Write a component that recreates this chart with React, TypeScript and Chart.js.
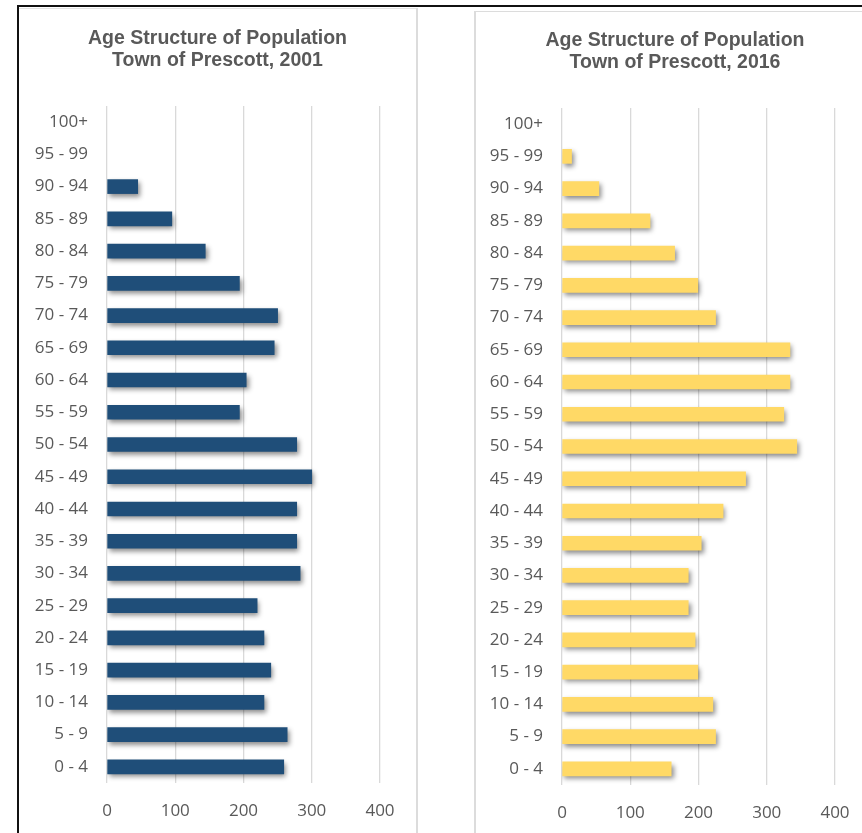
import React, { useEffect, useRef } from "react";
import { Chart, registerables } from "chart.js";

Chart.register(...registerables);

const ageGroups = [
  "0 - 4", "5 - 9", "10 - 14", "15 - 19", "20 - 24", "25 - 29", "30 - 34",
  "35 - 39", "40 - 44", "45 - 49", "50 - 54", "55 - 59", "60 - 64", "65 - 69",
  "70 - 74", "75 - 79", "80 - 84", "85 - 89", "90 - 94", "95 - 99", "100+",
];

const population2001 = [
  259, 264, 230, 240, 230, 220, 283, 278, 278, 300, 278, 194, 204, 245, 250,
  194, 144, 95, 45, 0, 0,
];

const population2016 = [
  160, 225, 221, 199, 195, 185, 185, 204, 236, 269, 344, 325, 334, 334, 225,
  199, 165, 129, 54, 14, 0,
];

const xTicks = [0, 100, 200, 300, 400];

const title2001 = ["Age Structure of Population", "Town of Prescott, 2001"];
const title2016 = ["Age Structure of Population", "Town of Prescott, 2016"];

const TEXT = "#595959";
const GRID = "#d9d9d9";
const TICK_FONT = { family: "'Open Sans', 'Liberation Sans', sans-serif", size: 17 };

const shadowPlugin = {
  id: "barShadow",
  beforeDatasetsDraw(chart: any) {
    const c = chart.ctx;
    c.save();
    c.shadowColor = "rgba(0,0,0,0.45)";
    c.shadowBlur = 5;
    c.shadowOffsetX = 2;
    c.shadowOffsetY = 3;
  },
  afterDatasetsDraw(chart: any) {
    chart.ctx.restore();
  },
};

type PanelProps = {
  left: number;
  top: number;
  width: number;
  height: number;
  title: string[];
  values: number[];
  color: string;
  yAxisWidth: number;
  rightGap: number;
  titleTop: number;
  titleBottom: number;
  xAxisHeight: number;
};

function PyramidChart(p: PanelProps) {
  const ref = useRef<HTMLCanvasElement | null>(null);
  useEffect(() => {
    if (!ref.current) return;
    const chart = new Chart(ref.current, {
      type: "bar",
      data: {
        labels: ageGroups,
        datasets: [
          {
            data: p.values,
            backgroundColor: (ctx: any) =>
              ctx.raw === 0 ? "rgba(0,0,0,0)" : p.color,
            borderWidth: 0,
            barThickness: 14,
          },
        ],
      },
      options: {
        indexAxis: "y",
        responsive: false,
        animation: false,
        maintainAspectRatio: false,
        layout: { padding: 0 },
        plugins: {
          legend: { display: false },
          tooltip: { enabled: false },
          title: {
            display: true,
            text: p.title,
            color: TEXT,
            font: {
              family: "'Liberation Sans', Arial, sans-serif",
              size: 19.5,
              weight: "bold",
              lineHeight: 22 / 19.5,
            },
            padding: { top: p.titleTop, bottom: p.titleBottom },
          },
        },
        scales: {
          x: {
            type: "linear",
            position: "bottom",
            min: xTicks[0],
            max: xTicks[xTicks.length - 1],
            afterBuildTicks: (s: any) => {
              s.ticks = xTicks.map((v) => ({ value: v }));
            },
            grid: { color: GRID, lineWidth: 1.3, drawTicks: false },
            border: { display: false },
            ticks: { color: TEXT, font: TICK_FONT, padding: 18 },
            afterFit: (s: any) => {
              s.height = p.xAxisHeight;
            },
          },
          y: {
            type: "category",
            reverse: true,
            grid: { display: false, drawTicks: false },
            border: { display: false },
            ticks: { color: TEXT, font: TICK_FONT, padding: 19, autoSkip: false },
            afterFit: (s: any) => {
              s.width = p.yAxisWidth;
            },
          },
          yRight: {
            type: "linear",
            position: "right",
            display: true,
            grid: { display: false, drawTicks: false },
            border: { display: false },
            ticks: { display: false },
            afterFit: (s: any) => {
              s.width = p.rightGap;
            },
          },
        },
      },
      plugins: [shadowPlugin],
    } as any);
    return () => chart.destroy();
  }, []);
  return (
    <canvas
      ref={ref}
      width={p.width}
      height={p.height}
      style={{
        position: "absolute",
        left: p.left,
        top: p.top,
        width: p.width,
        height: p.height,
      }}
    />
  );
}

export default function App() {
  return (
    <div
      style={{
        position: "fixed",
        left: 0,
        top: 0,
        width: 862,
        height: 833,
        overflow: "hidden",
        background: "#fff",
      }}
    >
      {/* outer black frame */}
      <div style={{ position: "absolute", left: 17, top: 5, width: 845, height: 2, background: "#111" }} />
      <div style={{ position: "absolute", left: 17, top: 5, width: 2, height: 828, background: "#111" }} />
      {/* left panel border */}
      <div style={{ position: "absolute", left: 19, top: 8, width: 398, height: 1, background: "#e3e3e3" }} />
      <div style={{ position: "absolute", left: 416, top: 8, width: 2, height: 825, background: "#dcdcdc" }} />
      {/* right panel border */}
      <div style={{ position: "absolute", left: 474, top: 11, width: 388, height: 1, background: "#dcdcdc" }} />
      <div style={{ position: "absolute", left: 474, top: 11, width: 2, height: 822, background: "#dcdcdc" }} />

      <PyramidChart
        left={19}
        top={9}
        width={397}
        height={824}
        title={title2001}
        values={population2001}
        color="#1F4E79"
        yAxisWidth={88}
        rightGap={36}
        titleTop={19}
        titleBottom={34}
        xAxisHeight={50}
      />
      <PyramidChart
        left={476}
        top={13}
        width={398}
        height={820}
        title={title2016}
        values={population2016}
        color="#FFD966"
        yAxisWidth={86}
        rightGap={39}
        titleTop={17}
        titleBottom={34}
        xAxisHeight={48}
      />
    </div>
  );
}
